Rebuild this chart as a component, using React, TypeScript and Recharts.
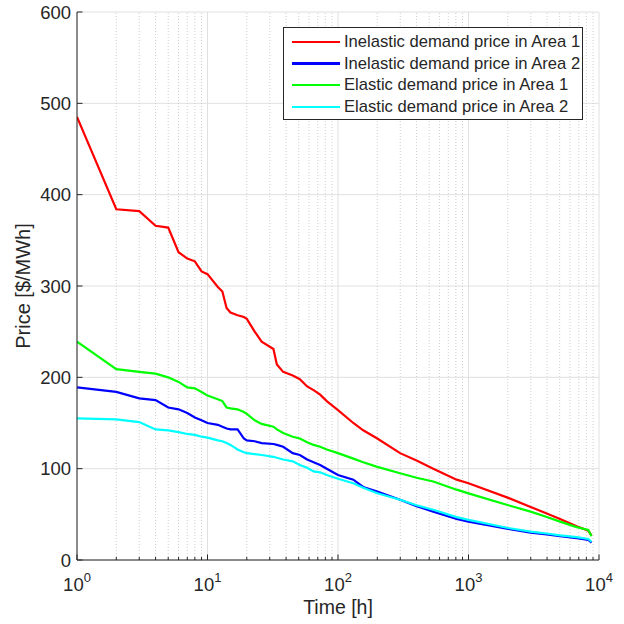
import React from 'react';
import { LineChart, Line, XAxis, YAxis, CartesianGrid, ReferenceLine, Legend, Label } from 'recharts';

const hours = [1, 2, 3, 4, 5, 6, 7, 8, 9, 10, 12, 13, 14, 15, 17, 19, 20, 23, 26, 32, 34, 38, 45, 51, 58, 65, 73, 82, 100, 131, 156, 200, 299, 400, 537, 811, 1000, 2018, 2993, 3981, 5030, 6742, 8280, 8760];
const inelasticArea1 = [485, 384, 382, 366, 364, 337, 330, 327, 316, 313, 299, 294, 276, 271, 268, 266, 264, 250, 239, 231, 214, 206, 202, 198, 190, 186, 181, 174, 164, 150, 142, 133, 117, 109, 100, 88, 84, 68, 58, 51, 45, 37, 32, 27];
const inelasticArea2 = [189, 184, 177, 175, 167, 165, 161, 156, 153, 150, 148, 146, 144, 143, 143, 133, 131, 130, 128, 127, 126, 124, 117, 115, 110, 107, 104, 100, 93, 88, 80, 75, 66, 59, 53, 45, 42, 34, 30, 28, 26, 24, 22, 19];
const elasticArea1 = [239, 209, 206, 204, 200, 195, 189, 188, 184, 180, 176, 174, 167, 166, 165, 162, 160, 153, 149, 146, 143, 139, 135, 133, 129, 126, 124, 121, 117, 111, 107, 102, 95, 90, 86, 77, 73, 60, 53, 47, 42, 36, 33, 26];
const elasticArea2 = [155, 154, 151, 143, 142, 140, 138, 137, 135, 134, 131, 130, 128, 126, 121, 118, 117, 116, 115, 113, 112, 110, 108, 104, 101, 97, 96, 93, 89, 84, 79, 73, 66, 60, 55, 47, 44, 35, 31, 29, 27, 25, 23, 20];

const seriesNames = ['Inelastic demand price in Area 1', 'Inelastic demand price in Area 2', 'Elastic demand price in Area 1', 'Elastic demand price in Area 2'];
const seriesKeys = ['ia1', 'ia2', 'ea1', 'ea2'];
const seriesColors = ['#ff0000', '#0000ff', '#00ff00', '#00ffff'];

const xMajorTicks = [1, 10, 100, 1000, 10000];
const xMinorTicks = [2, 3, 4, 5, 6, 7, 8, 9, 20, 30, 40, 50, 60, 70, 80, 90, 200, 300, 400, 500, 600, 700, 800, 900, 2000, 3000, 4000, 5000, 6000, 7000, 8000, 9000];
const xAllTicks = [...xMajorTicks, ...xMinorTicks].sort((a, b) => a - b);
const yTicks = [0, 100, 200, 300, 400, 500, 600];

const data = hours.map((h, i) => ({
  h,
  ia1: inelasticArea1[i],
  ia2: inelasticArea2[i],
  ea1: elasticArea1[i],
  ea2: elasticArea2[i],
}));

const FONT = '"Liberation Sans", Arial, Helvetica, sans-serif';
const TXT = '#262626';

function BottomTick(props: any) {
  const { x, y, payload } = props;
  const v = payload.value;
  const major = xMajorTicks.includes(v);
  const len = major ? 5.5 : 3;
  return (
    <g>
      <line x1={x} y1={y} x2={x} y2={y - len} stroke={TXT} strokeWidth={1} />
      {major && (
        <text x={x} y={y + 30.5} textAnchor="middle" fill={TXT} fontSize={18.5} fontFamily={FONT}>
          10<tspan dy={-9} fontSize={13}>{Math.round(Math.log10(v))}</tspan>
        </text>
      )}
    </g>
  );
}

function TopTick(props: any) {
  const { x, y, payload } = props;
  const major = xMajorTicks.includes(payload.value);
  const len = major ? 5.5 : 3;
  return <line x1={x} y1={y} x2={x} y2={y + len} stroke={TXT} strokeWidth={1} />;
}

function LeftTick(props: any) {
  const { x, y, payload } = props;
  return (
    <g>
      <line x1={x} y1={y} x2={x + 5.5} y2={y} stroke={TXT} strokeWidth={1} />
      <text x={x - 6} y={y} dy="0.36em" textAnchor="end" fill={TXT} fontSize={18.5} fontFamily={FONT}>
        {payload.value}
      </text>
    </g>
  );
}

function RightTick(props: any) {
  const { x, y } = props;
  return <line x1={x} y1={y} x2={x - 5.5} y2={y} stroke={TXT} strokeWidth={1} />;
}

function LegendBox(props: any) {
  const items = [...(props.payload || [])].sort(
    (a: any, b: any) => seriesNames.indexOf(a.value) - seriesNames.indexOf(b.value)
  );
  return (
    <div
      style={{
        border: `1px solid ${TXT}`,
        background: '#fff',
        width: 300,
        height: 93,
        boxSizing: 'border-box',
        paddingTop: 3,
      }}
    >
      {items.map((it: any, i: number) => (
        <div key={i} style={{ display: 'flex', alignItems: 'center', height: 21.7 }}>
          <div style={{ width: 48, height: 2.5, background: it.color, marginLeft: 8, marginRight: 4 }} />
          <span style={{ fontSize: 16.6, fontFamily: FONT, color: TXT, whiteSpace: 'nowrap' }}>{it.value}</span>
        </div>
      ))}
    </div>
  );
}

export default function App() {
  return (
    <div style={{ position: 'absolute', left: 0, top: 0 }}>
      <LineChart width={624} height={624} data={data} margin={{ top: 12, right: 25, bottom: 0, left: 0 }}>
        <CartesianGrid vertical={false} stroke="#e0e0e0" />
        {xMinorTicks.map((v) => (
          <ReferenceLine key={`m${v}`} x={v} stroke="#cfcfcf" strokeDasharray="1 2" />
        ))}
        {xMajorTicks.map((v) => (
          <ReferenceLine key={`M${v}`} x={v} stroke="#e0e0e0" />
        ))}
        <XAxis
          dataKey="h"
          type="number"
          scale="log"
          domain={[1, 10000]}
          ticks={xAllTicks}
          interval={0}
          allowDataOverflow
          height={64}
          tickSize={0}
          tickMargin={0}
          tick={<BottomTick />}
          axisLine={{ stroke: TXT }}
          tickLine={false}
        >
          <Label
            content={(p: any) => {
              const vb = p.viewBox;
              return (
                <text x={vb.x + vb.width / 2} y={vb.y + 54} textAnchor="middle" fill={TXT} fontSize={19.5} fontFamily={FONT}>
                  Time [h]
                </text>
              );
            }}
          />
        </XAxis>
        <XAxis
          xAxisId="top"
          orientation="top"
          dataKey="h"
          type="number"
          scale="log"
          domain={[1, 10000]}
          ticks={xAllTicks}
          interval={0}
          allowDataOverflow
          height={0}
          tickSize={0}
          tickMargin={0}
          tick={<TopTick />}
          axisLine={{ stroke: TXT }}
          tickLine={false}
        />
        <YAxis
          type="number"
          domain={[0, 600]}
          ticks={yTicks}
          interval={0}
          width={77}
          tickSize={0}
          tickMargin={0}
          tick={<LeftTick />}
          axisLine={{ stroke: TXT }}
          tickLine={false}
        >
          <Label
            content={(p: any) => {
              const vb = p.viewBox;
              const cx = vb.x + 29.5;
              const cy = vb.y + vb.height / 2;
              return (
                <text x={cx} y={cy} transform={`rotate(-90 ${cx} ${cy})`} textAnchor="middle" fill={TXT} fontSize={20} fontFamily={FONT}>
                  Price [$/MWh]
                </text>
              );
            }}
          />
        </YAxis>
        <YAxis
          yAxisId="right"
          orientation="right"
          type="number"
          domain={[0, 600]}
          ticks={yTicks}
          interval={0}
          width={0}
          tickSize={0}
          tickMargin={0}
          tick={<RightTick />}
          axisLine={{ stroke: TXT }}
          tickLine={false}
        />
        {seriesKeys.map((k, i) => (
          <Line
            key={k}
            type="linear"
            dataKey={k}
            name={seriesNames[i]}
            stroke={seriesColors[i]}
            strokeWidth={2.2}
            dot={false}
            isAnimationActive={false}
          />
        ))}
        <Legend
          layout="vertical"
          align="center"
          verticalAlign="middle"
          content={<LegendBox />}
          wrapperStyle={{ position: 'absolute', left: 283, top: 27, width: 300, height: 93 }}
        />
      </LineChart>
    </div>
  );
}
